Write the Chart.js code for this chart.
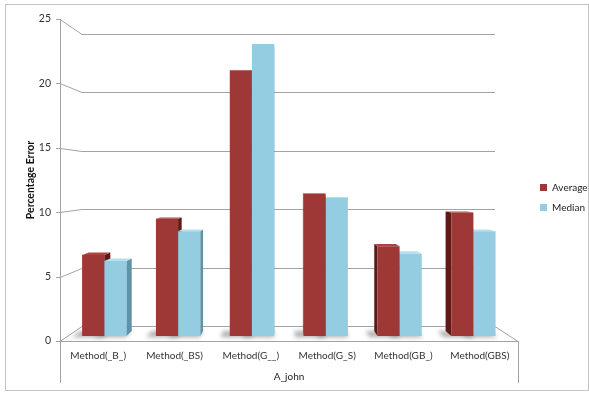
<!DOCTYPE html>
<html>
<head>
<meta charset="utf-8">
<script src="https://cdn.jsdelivr.net/npm/chart.js@4.4.0/dist/chart.umd.min.js"></script>
<style>
  html, body { margin: 0; padding: 0; background: #ffffff; }
  #wrap { position: relative; width: 589px; height: 394px; }
</style>
</head>
<body>
<div id="wrap"><canvas id="chart" width="589" height="394"></canvas></div>
<script>
// Error of each method for A_john
const categories = ['Method(_B_)', 'Method(_BS)', 'Method(G__)', 'Method(G_S)', 'Method(GB_)', 'Method(GBS)'];
const averageValues = [6.5, 9.4, 21.3, 11.4, 7.2, 9.9];
const medianValues = [6.0, 8.4, 23.4, 11.1, 6.6, 8.4];
const yTicks = [0, 5, 10, 15, 20, 25];
const groupLabel = 'A_john';
const yTitle = 'Percentage Error';

const FONT = 'Lato, "Open Sans", "DejaVu Sans", sans-serif';

// Perspective box: how far the back wall sits from the front plane
const DEPTH = { left: 22, right: 23, bottom: 15, top: 15 };
const BAR_FRONT = 1 / 3;
const BAR_BACK = 2 / 3;

const SERIES_STYLE = [
  { front: '#9e3836', side: '#5e1917', top: '#a94744' },
  { front: '#94cde1', side: '#5f93a8', top: '#b6deeb' }
];

// Maps a front-plane point to depth d (0 = front, 1 = back wall)
function project(a, x, y, d) {
  const W = a.right - a.left, H = a.bottom - a.top;
  const u = (x - a.left) / W, v = (a.bottom - y) / H;
  return {
    x: x + d * (DEPTH.left * (1 - u) - DEPTH.right * u),
    y: y + d * (-DEPTH.bottom * (1 - v) + DEPTH.top * v)
  };
}

function poly(ctx, pts, fill) {
  ctx.beginPath();
  ctx.moveTo(pts[0].x, pts[0].y);
  for (let i = 1; i < pts.length; i++) ctx.lineTo(pts[i].x, pts[i].y);
  ctx.closePath();
  ctx.fillStyle = fill;
  ctx.fill();
}

const depthPlugin = {
  id: 'depth3d',
  afterLayout(chart) {
    // legend sits a little right of the floor, slightly below mid-height
    const lg = chart.legend;
    if (lg) {
      const dx = chart.chartArea.right + 12 - lg.left;
      lg.left += dx; lg.right += dx;
      lg.top -= 5; lg.bottom -= 5;
    }
  },
  beforeDraw(chart) {
    const { ctx, chartArea: a, scales: { x, y } } = chart;
    ctx.save();
    // outer frame
    ctx.strokeStyle = '#c4c4c4';
    ctx.lineWidth = 1;
    ctx.strokeRect(5.5, 4.5, 583, 386);

    ctx.strokeStyle = '#a3a3a3';
    ctx.beginPath();
    // value gridlines on the back wall, joined to the axis by a slanted run
    yTicks.forEach(v => {
      const yf = y.getPixelForValue(v);
      const b = project(a, a.left, yf, 1);
      const e = project(a, a.right, yf, 1);
      ctx.moveTo(a.left - 4, Math.round(yf) + 0.5);
      ctx.lineTo(a.left, Math.round(yf) + 0.5);
      ctx.lineTo(b.x, Math.round(b.y) + 0.5);
      ctx.lineTo(e.x, Math.round(e.y) + 0.5);
    });
    // floor: right slanted edge and front edge
    const br = project(a, a.right, a.bottom, 1);
    ctx.moveTo(br.x, Math.round(br.y) + 0.5);
    ctx.lineTo(a.right, Math.round(a.bottom) + 0.5);
    ctx.lineTo(a.left, Math.round(a.bottom) + 0.5);
    // value axis and group bracket
    const lx = Math.round(a.left) + 0.5, rx = Math.round(a.right) + 0.5;
    const yb = x.bottom - 3;
    ctx.moveTo(lx, a.top);
    ctx.lineTo(lx, yb);
    ctx.moveTo(rx, a.bottom);
    ctx.lineTo(rx, yb);
    ctx.stroke();
    ctx.restore();
  },
  beforeDatasetsDraw(chart) {
    const { ctx, chartArea: a } = chart;
    const bars = [];
    chart.data.datasets.forEach((ds, di) => {
      chart.getDatasetMeta(di).data.forEach(el => {
        const p = el.getProps(['x', 'y', 'base', 'width'], true);
        bars.push({ di, x: p.x, y: p.y, base: p.base, w: p.width });
      });
    });
    const cx = (a.left + a.right) / 2;

    // soft floor shadows
    ctx.save();
    ctx.filter = 'blur(2px)';
    bars.forEach(b => {
      const xl = b.x - b.w / 2 - 9, xr = b.x + b.w / 2;
      poly(ctx, [
        project(a, xl, b.base, BAR_FRONT - 0.08), project(a, xr, b.base, BAR_FRONT - 0.08),
        project(a, xr, b.base, BAR_BACK), project(a, xl, b.base, BAR_BACK)
      ], 'rgba(80,80,80,0.45)');
    });
    ctx.restore();

    // side and top faces, farthest bars first
    const order = bars.slice().sort((p, q) => Math.abs(q.x - cx) - Math.abs(p.x - cx));
    ctx.save();
    order.forEach(b => {
      const st = SERIES_STYLE[b.di];
      const xl = b.x - b.w / 2, xr = b.x + b.w / 2;
      const P = (xx, yy, d) => project(a, xx, yy, d);
      if (P(xr, b.y, BAR_BACK).x > P(xr, b.y, BAR_FRONT).x) {
        poly(ctx, [P(xr, b.y, BAR_FRONT), P(xr, b.base, BAR_FRONT), P(xr, b.base, BAR_BACK), P(xr, b.y, BAR_BACK)], st.side);
      }
      if (P(xl, b.y, BAR_BACK).x < P(xl, b.y, BAR_FRONT).x) {
        poly(ctx, [P(xl, b.y, BAR_FRONT), P(xl, b.base, BAR_FRONT), P(xl, b.base, BAR_BACK), P(xl, b.y, BAR_BACK)], st.side);
      }
      if (P(xl, b.y, BAR_BACK).y < P(xl, b.y, BAR_FRONT).y) {
        poly(ctx, [P(xl, b.y, BAR_FRONT), P(xr, b.y, BAR_FRONT), P(xr, b.y, BAR_BACK), P(xl, b.y, BAR_BACK)], st.top);
      }
    });
    ctx.restore();

    // front faces are drawn by Chart.js, pushed back to the bar depth
    const W = a.right - a.left, H = a.bottom - a.top, d = BAR_FRONT;
    const sx = 1 - d * (DEPTH.left + DEPTH.right) / W;
    const tx = d * (DEPTH.left + (DEPTH.left + DEPTH.right) * a.left / W);
    const sy = 1 - d * (DEPTH.bottom + DEPTH.top) / H;
    const ty = d * (-DEPTH.bottom + (DEPTH.bottom + DEPTH.top) * a.bottom / H);
    ctx.save();
    ctx.transform(sx, 0, 0, sy, tx, ty);
  },
  afterDatasetsDraw(chart) {
    chart.ctx.restore();
  }
};

new Chart(document.getElementById('chart'), {
  type: 'bar',
  data: {
    labels: categories,
    datasets: [
      { label: 'Average', data: averageValues, backgroundColor: SERIES_STYLE[0].front },
      { label: 'Median', data: medianValues, backgroundColor: SERIES_STYLE[1].front }
    ]
  },
  options: {
    responsive: false,
    animation: false,
    events: [],
    layout: { padding: { left: 0, top: 19, right: 6, bottom: 8 } },
    datasets: {
      bar: { barPercentage: 1.0, categoryPercentage: 0.6, borderWidth: 0 }
    },
    plugins: {
      tooltip: { enabled: false },
      legend: {
        position: 'right',
        maxWidth: 65,
        labels: {
          boxWidth: 7, boxHeight: 7, padding: 10,
          color: '#222222',
          font: { family: FONT, size: 10 }
        }
      }
    },
    scales: {
      x: {
        grid: { display: false, drawTicks: false },
        border: { display: false },
        ticks: { color: '#333333', padding: 9, maxRotation: 0, autoSkip: false, font: { family: FONT, size: 10 } },
        title: { display: true, text: groupLabel, color: '#222222', padding: { top: 0, bottom: 3 }, font: { family: FONT, size: 10 } },
        afterFit(scale) { scale.height = 45; }
      },
      y: {
        min: 0, max: 25,
        afterBuildTicks(scale) { scale.ticks = yTicks.map(v => ({ value: v })); },
        grid: { display: false, drawTicks: false },
        border: { display: false },
        ticks: { color: '#333333', padding: 9, font: { family: FONT, size: 10.5 } },
        title: { display: true, text: yTitle, color: '#111111', padding: { top: 24, bottom: 0 }, font: { family: FONT, size: 10.5, weight: 'bold' } },
        afterFit(scale) { scale.width = 60; }
      }
    }
  },
  plugins: [depthPlugin]
});
</script>
</body>
</html>
